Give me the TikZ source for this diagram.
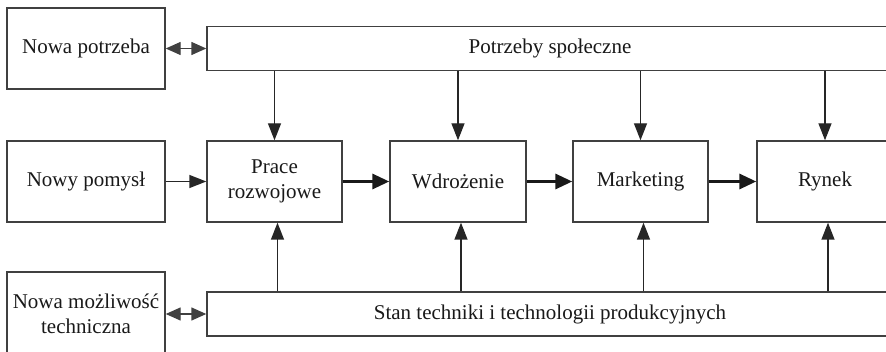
\documentclass[tikz,border=0pt]{standalone}
\usepackage{fontspec}
\setmainfont{Liberation Serif}
\usetikzlibrary{arrows.meta}
\begin{document}
\begin{tikzpicture}[x=1pt,y=-1pt,
  box/.style={draw=black!75, line width=1.4pt, fill=white, inner sep=0pt,
    align=center, font=\fontsize{21}{25}\selectfont, text=black!90},
  thinarrow/.style={draw=black!85, line width=1.4pt,
    -{Triangle[length=17pt,width=13pt]}},
  thickarrow/.style={draw=black!90, line width=3.2pt,
    -{Triangle[length=17pt,width=15pt]}},
  botharrow/.style={draw=black!75, line width=1.4pt,
    {Triangle[length=15pt,width=13pt]}-{Triangle[length=15pt,width=13pt]}}
]
\useasboundingbox (0,0) rectangle (886,352);
\clip (0,0) rectangle (886,352);

% sources of innovation (left column)
\node[box, minimum width=158pt, minimum height=81pt] (np) at (86,48.5) {Nowa potrzeba};
\node[box, minimum width=158pt, minimum height=81pt] (npm) at (86,181.5) {Nowy pomysł};
\node[box, minimum width=158pt, minimum height=84pt] (nm) at (86,314) {Nowa możliwość\\techniczna};

% wide bars
\node[box, minimum width=686pt, minimum height=44pt] (ps) at (550,48.5) {Potrzeby społeczne};
\node[box, minimum width=686pt, minimum height=44pt] (st) at (550,314) {Stan techniki i technologii produkcyjnych};

% main process chain
\node[box, minimum width=135pt, minimum height=81pt] (pr) at (274.5,181.5) {Prace\\rozwojowe};
\node[box, minimum width=136pt, minimum height=81pt] (wd) at (458,181.5) {Wdrożenie};
\node[box, minimum width=135pt, minimum height=81pt] (mk) at (640.5,181.5) {Marketing};
\node[box, minimum width=136pt, minimum height=81pt] (ry) at (825,181.5) {Rynek};

% links to the bars
\draw[botharrow] (np) -- (ps);
\draw[botharrow] (nm) -- (st);
\draw[thinarrow] (npm) -- (pr);

% chain
\draw[thickarrow] (pr) -- (wd);
\draw[thickarrow] (wd) -- (mk);
\draw[thickarrow] (mk) -- (ry);

% demand pull
\foreach \n in {pr,wd,mk,ry}
  \draw[thinarrow] (ps.south -| \n.north) -- (\n.north);

% technology push
\foreach \n in {pr,wd,mk,ry}
  \draw[thinarrow] ([xshift=3pt]\n.south |- st.north) -- ([xshift=3pt]\n.south);
\end{tikzpicture}
\end{document}
